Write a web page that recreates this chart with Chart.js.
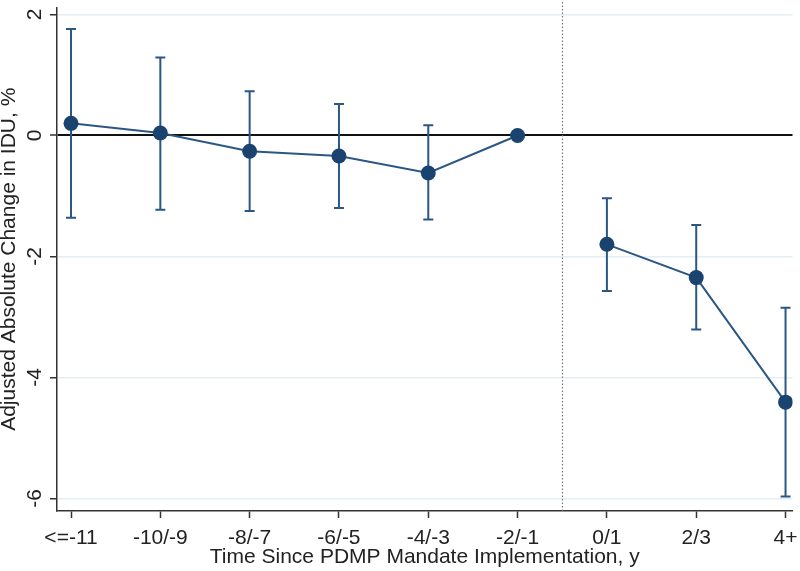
<!DOCTYPE html>
<html>
<head>
<meta charset="utf-8">
<script src="https://cdn.jsdelivr.net/npm/chart.js@4.4.1/dist/chart.umd.min.js"></script>
<style>
  body { margin: 0; background: #fff; }
  #wrap { width: 800px; height: 571px; }
</style>
</head>
<body>
<div id="wrap"><canvas id="myChart"></canvas></div>
<script>
// categories (time since mandate) and estimates
var categories = ['<=-11', '-10/-9', '-8/-7', '-6/-5', '-4/-3', '-2/-1', '0/1', '2/3', '4+'];
var estimates = [0.20, 0.04, -0.26, -0.34, -0.62, 0.00, -1.80, -2.35, -4.41];
var ciLow = [-1.36, -1.23, -1.25, -1.20, -1.39, null, -2.57, -3.21, -5.97];
var ciHigh = [1.76, 1.29, 0.73, 0.52, 0.17, null, -1.04, -1.48, -2.85];
var yTicks = [-6, -4, -2, 0, 2];
var mandateAt = 5.5; // dotted line between -2/-1 and 0/1

var navy = '#1b4370';
var txtFont = { family: 'Liberation Sans', size: 21 };

function points(from, to) {
  var pts = [];
  for (var i = from; i < to; i++) pts.push({ x: i, y: estimates[i] });
  return pts;
}

function noPad(s) {
  s.paddingTop = 0; s.paddingBottom = 0; s.paddingLeft = 0; s.paddingRight = 0;
  if (s._margins) { s._margins.top = 0; s._margins.bottom = 0; s._margins.left = 0; s._margins.right = 0; }
}

// error bars + dotted mandate line, drawn before the markers
var errorBars = {
  id: 'errorBars',
  beforeDatasetsDraw: function (chart) {
    var ctx = chart.ctx, xs = chart.scales.x, ys = chart.scales.y;
    var area = chart.chartArea;
    ctx.save();
    // dotted vertical line
    ctx.strokeStyle = '#777';
    ctx.lineWidth = 1.2;
    ctx.setLineDash([1.5, 2]);
    var mx = Math.round(xs.getPixelForValue(mandateAt)) + 0.5;
    ctx.beginPath();
    ctx.moveTo(mx, 2);
    ctx.lineTo(mx, area.bottom);
    ctx.stroke();
    ctx.setLineDash([]);
    // error bars
    ctx.strokeStyle = '#2b5785';
    ctx.lineWidth = 2;
    for (var i = 0; i < categories.length; i++) {
      if (ciLow[i] === null) continue;
      var x = xs.getPixelForValue(i);
      var y1 = ys.getPixelForValue(ciLow[i]);
      var y2 = ys.getPixelForValue(ciHigh[i]);
      ctx.beginPath();
      ctx.moveTo(x, y1); ctx.lineTo(x, y2);
      ctx.moveTo(x - 5, y1); ctx.lineTo(x + 5, y1);
      ctx.moveTo(x - 5, y2); ctx.lineTo(x + 5, y2);
      ctx.stroke();
    }
    ctx.restore();
  }
};

var ctx = document.getElementById('myChart').getContext('2d');
var myChart = new Chart(ctx, {
  type: 'line',
  data: {
    datasets: [
      { data: points(0, 6), borderColor: '#2b5785', borderWidth: 2, pointRadius: 7.5,
        pointBackgroundColor: navy, pointBorderColor: navy, pointBorderWidth: 0, tension: 0 },
      { data: points(6, 9), borderColor: '#2b5785', borderWidth: 2, pointRadius: 7.5,
        pointBackgroundColor: navy, pointBorderColor: navy, pointBorderWidth: 0, tension: 0 }
    ]
  },
  options: {
    responsive: true,
    maintainAspectRatio: false,
    animation: false,
    layout: { padding: 0 },
    plugins: { legend: { display: false }, tooltip: { enabled: false } },
    scales: {
      x: {
        type: 'linear',
        min: -0.157,
        max: 8.078,
        afterFit: function (s) { s.height = 60; noPad(s); },
        afterBuildTicks: function (s) { s.ticks = categories.map(function (c, i) { return { value: i }; }); },
        ticks: {
          autoSkip: false, maxRotation: 0, minRotation: 0, padding: 8,
          color: '#222', font: txtFont,
          callback: function (v) { return categories[v]; }
        },
        grid: { drawOnChartArea: false, drawTicks: true, tickLength: 7, tickColor: '#333', tickWidth: 1.5 },
        border: { color: '#333', width: 1.5 },
        title: { display: true, text: 'Time Since PDMP Mandate Implementation, y', color: '#222',
                 font: txtFont, padding: { top: 0, bottom: 1 } }
      },
      y: {
        min: -6.21,
        max: 2.116,
        afterFit: function (s) { s.width = 57; noPad(s); },
        afterBuildTicks: function (s) { s.ticks = yTicks.map(function (v) { return { value: v }; }); },
        ticks: {
          minRotation: 90, maxRotation: 90, crossAlign: 'center', padding: 5,
          color: '#222', font: txtFont
        },
        grid: {
          color: function (c) { return c.tick && c.tick.value === 0 ? '#111' : '#e4eef4'; },
          lineWidth: function (c) { return c.tick && c.tick.value === 0 ? 2 : 1.5; },
          tickColor: '#333', tickLength: 7, tickWidth: 1.5
        },
        border: { color: '#333', width: 1.5 },
        title: { display: true, text: 'Adjusted Absolute Change in IDU, %', color: '#222',
                 font: { family: 'Liberation Sans', size: 21, lineHeight: 0.86 }, padding: { top: 0, bottom: 0 } }
      }
    }
  },
  plugins: [errorBars]
});
</script>
</body>
</html>
